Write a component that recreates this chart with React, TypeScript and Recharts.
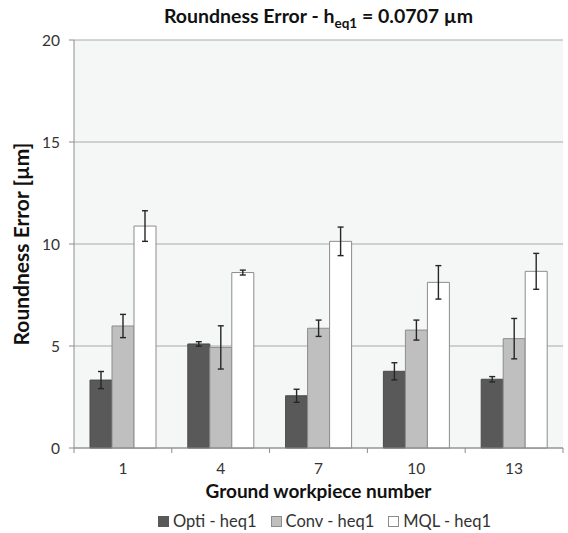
import React from 'react';
import { BarChart, Bar, XAxis, YAxis, CartesianGrid, ErrorBar, Legend } from 'recharts';

const workpieces = ['1', '4', '7', '10', '13'];
const optiValues = [3.33, 5.1, 2.56, 3.76, 3.37];
const optiErrors = [0.42, 0.11, 0.32, 0.42, 0.13];
const convValues = [5.98, 4.93, 5.87, 5.78, 5.36];
const convErrors = [0.57, 1.06, 0.4, 0.49, 0.99];
const mqlValues = [10.88, 8.6, 10.13, 8.12, 8.66];
const mqlErrors = [0.75, 0.12, 0.7, 0.82, 0.88];
const yTicks = [0, 5, 10, 15, 20];
const seriesNames = ['Opti - heq1', 'Conv - heq1', 'MQL - heq1'];
const seriesFills = ['#595959', '#bfbfbf', '#ffffff'];

const data = workpieces.map((w, i) => ({
  name: w,
  opti: optiValues[i],
  optiErr: optiErrors[i],
  conv: convValues[i],
  convErr: convErrors[i],
  mql: mqlValues[i],
  mqlErr: mqlErrors[i],
}));

const font = 'Lato, "Open Sans", sans-serif';

// Excel puts the category ticks between groups, not under them
const CategoryTick = (props: any) => {
  const { x, y, payload, index, visibleTicksCount } = props;
  const half = payload?.offset || 48.9;
  const last = index === (visibleTicksCount ?? workpieces.length) - 1;
  return (
    <g>
      <line x1={x - half} x2={x - half} y1={y - 5} y2={y} stroke="#8c8c8c" />
      {last && <line x1={x + half} x2={x + half} y1={y - 5} y2={y} stroke="#8c8c8c" />}
      <text x={x} y={y + 21} textAnchor="middle" fontSize={15.5} fill="#333" fontFamily={font}>
        {payload.value}
      </text>
    </g>
  );
};

const renderLegend = () => (
  <div style={{ display: 'flex', justifyContent: 'center', fontFamily: font, fontSize: 16.5, color: '#333' }}>
    {seriesNames.map((n, i) => (
      <span key={n} style={{ display: 'flex', alignItems: 'center', marginLeft: i ? 14 : 0 }}>
        <span
          style={{
            display: 'inline-block',
            width: 9,
            height: 9,
            background: seriesFills[i],
            border: `1px solid ${i === 0 ? '#595959' : '#8c8c8c'}`,
            marginRight: 4,
          }}
        />
        {n}
      </span>
    ))}
  </div>
);

export default function App() {
  return (
    <div style={{ position: 'absolute', left: 0, top: 0, width: 568, height: 533, background: '#fff' }}>
      <div
        style={{
          position: 'absolute',
          left: 74,
          width: 489,
          top: 4,
          textAlign: 'center',
          fontFamily: font,
          fontWeight: 700,
          fontSize: 19.5,
          color: '#111',
          zIndex: 2,
        }}
      >
        Roundness Error - h<sub style={{ fontSize: 13.5 }}>eq1</sub> = 0.0707 µm
      </div>
      <div
        style={{
          position: 'absolute',
          left: 20,
          top: 244,
          transform: 'translate(-50%, -50%) rotate(-90deg)',
          whiteSpace: 'nowrap',
          fontFamily: font,
          fontWeight: 700,
          fontSize: 21,
          color: '#111',
          zIndex: 2,
        }}
      >
        Roundness Error [µm]
      </div>
      <div
        style={{
          position: 'absolute',
          left: 74,
          width: 489,
          top: 479,
          textAlign: 'center',
          fontFamily: font,
          fontWeight: 700,
          fontSize: 19,
          color: '#111',
          zIndex: 2,
        }}
      >
        Ground workpiece number
      </div>
      <BarChart
        width={568}
        height={533}
        data={data}
        margin={{ top: 40, right: 5, bottom: 55, left: 34 }}
        barGap={0}
        barSize={22}
      >
        <CartesianGrid vertical={false} stroke="#a9a9a9" fill="#f5f6f6" />
        <XAxis
          dataKey="name"
          height={30}
          stroke="#8c8c8c"
          tickLine={false}
          tickSize={5}
          tickMargin={0}
          tick={<CategoryTick />}
          interval={0}
        />
        <YAxis
          width={40}
          domain={[0, 20]}
          ticks={yTicks}
          stroke="#8c8c8c"
          tickSize={5}
          tickMargin={9}
          tick={{ fill: '#333', fontSize: 15.5, fontFamily: font }}
        />
        <Legend content={renderLegend} layout="horizontal" verticalAlign="middle" align="center" wrapperStyle={{ left: 80, width: 489, top: 511 }} />
        <Bar dataKey="opti" name={seriesNames[0]} fill={seriesFills[0]} stroke="#4a4a4a" isAnimationActive={false}>
          <ErrorBar dataKey="optiErr" width={3} stroke="#262626" strokeWidth={1.4} />
        </Bar>
        <Bar dataKey="conv" name={seriesNames[1]} fill={seriesFills[1]} stroke="#8c8c8c" isAnimationActive={false}>
          <ErrorBar dataKey="convErr" width={3} stroke="#262626" strokeWidth={1.4} />
        </Bar>
        <Bar dataKey="mql" name={seriesNames[2]} fill={seriesFills[2]} stroke="#8c8c8c" isAnimationActive={false}>
          <ErrorBar dataKey="mqlErr" width={3} stroke="#262626" strokeWidth={1.4} />
        </Bar>
      </BarChart>
    </div>
  );
}
